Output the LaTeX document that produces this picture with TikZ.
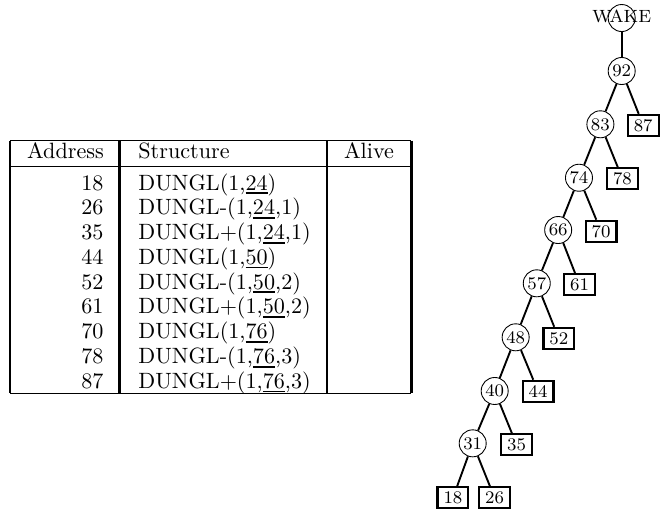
\documentclass[tikz,border=0pt]{standalone}
\usepackage{tikz}
\usetikzlibrary{positioning}

% heavy underline for the pointer field
\newlength\ptrwd
\newcommand{\ptr}[1]{\settowidth{\ptrwd}{#1}\rlap{\rule[-1.9pt]{\ptrwd}{0.8pt}}#1}

\begin{document}
\begin{tikzpicture}[
    cell/.style={inner sep=0pt},
    hrule/.style={line width=0.45pt},
    vrule/.style={line width=1pt},
    inner/.style={circle,draw,line width=0.4pt,minimum size=12.2pt,inner sep=0pt,font=\footnotesize},
    leaf/.style={rectangle,draw,line width=1pt,minimum width=13.9pt,minimum height=9.4pt,inner sep=0pt,font=\footnotesize},
    branch/.style={line width=0.85pt}]
  \useasboundingbox (0,0) rectangle (10.492,-8.159);

  % table frame
  \draw[hrule] (0.163,-2.233) -- (6.53,-2.233);
  \draw[hrule] (0.163,-2.646) -- (6.53,-2.646);
  \draw[hrule,line width=0.7pt] (0.163,-6.243) -- (6.53,-6.243);
  \draw[vrule] (0.163,-2.233) -- (0.163,-6.243);
  \draw[vrule] (1.897,-2.233) -- (1.897,-6.243);
  \draw[vrule] (5.19,-2.233) -- (5.19,-6.243);
  \draw[vrule] (6.53,-2.233) -- (6.53,-6.243);

  % header
  \node[cell,anchor=base] (hAddr) at (1.04,-2.508) {Address};
  \node[cell,anchor=base west] (hStruct) at (2.19,-2.508) {Structure};
  \node[cell,anchor=base] (hAlive) at (5.857,-2.508) {Alive};

  % rows
  \node[cell,anchor=base east] (a18) at (1.65,-3.016) {18};
  \node[cell,anchor=base west] (s18) at (2.19,-3.016) {DUNGL(1,\ptr{24})};
  \node[cell,anchor=base east] (a26) at (1.65,-3.409) {26};
  \node[cell,anchor=base west] (s26) at (2.19,-3.409) {DUNGL-(1,\ptr{24},1)};
  \node[cell,anchor=base east] (a35) at (1.65,-3.802) {35};
  \node[cell,anchor=base west] (s35) at (2.19,-3.802) {DUNGL+(1,\ptr{24},1)};
  \node[cell,anchor=base east] (a44) at (1.65,-4.195) {44};
  \node[cell,anchor=base west] (s44) at (2.19,-4.195) {DUNGL(1,\ptr{50})};
  \node[cell,anchor=base east] (a52) at (1.65,-4.588) {52};
  \node[cell,anchor=base west] (s52) at (2.19,-4.588) {DUNGL-(1,\ptr{50},2)};
  \node[cell,anchor=base east] (a61) at (1.65,-4.981) {61};
  \node[cell,anchor=base west] (s61) at (2.19,-4.981) {DUNGL+(1,\ptr{50},2)};
  \node[cell,anchor=base east] (a70) at (1.65,-5.374) {70};
  \node[cell,anchor=base west] (s70) at (2.19,-5.374) {DUNGL(1,\ptr{76})};
  \node[cell,anchor=base east] (a78) at (1.65,-5.767) {78};
  \node[cell,anchor=base west] (s78) at (2.19,-5.767) {DUNGL-(1,\ptr{76},3)};
  \node[cell,anchor=base east] (a87) at (1.65,-6.160) {87};
  \node[cell,anchor=base west] (s87) at (2.19,-6.160) {DUNGL+(1,\ptr{76},3)};

  % tree
  \node[inner] (wake) at (9.868,-0.286) {};
  \node[cell,font=\footnotesize] (wakeText) at (9.868,-0.265) {WAKE};
  \node[inner] (n92) at (9.868,-1.127) {92};
  \node[inner] (n83) at (9.530,-1.973) {83};
  \node[leaf]  (l87) at (10.210,-1.99) {87};
  \node[inner] (n74) at (9.190,-2.821) {74};
  \node[leaf]  (l78) at (9.880,-2.837) {78};
  \node[inner] (n66) at (8.860,-3.651) {66};
  \node[leaf]  (l70) at (9.540,-3.67) {70};
  \node[inner] (n57) at (8.520,-4.497) {57};
  \node[leaf]  (l61) at (9.200,-4.52) {61};
  \node[inner] (n48) at (8.185,-5.354) {48};
  \node[leaf]  (l52) at (8.870,-5.37) {52};
  \node[inner] (n40) at (7.852,-6.206) {40};
  \node[leaf]  (l44) at (8.540,-6.21) {44};
  \node[inner] (n31) at (7.503,-7.037) {31};
  \node[leaf]  (l35) at (8.200,-7.06) {35};
  \node[leaf]  (l18) at (7.190,-7.90) {18};
  \node[leaf]  (l26) at (7.850,-7.90) {26};

  \draw[branch] (wake) -- (n92);
  \draw[branch] (n92) -- (n83);
  \draw[branch] (n92) -- (l87);
  \draw[branch] (n83) -- (n74);
  \draw[branch] (n83) -- (l78);
  \draw[branch] (n74) -- (n66);
  \draw[branch] (n74) -- (l70);
  \draw[branch] (n66) -- (n57);
  \draw[branch] (n66) -- (l61);
  \draw[branch] (n57) -- (n48);
  \draw[branch] (n57) -- (l52);
  \draw[branch] (n48) -- (n40);
  \draw[branch] (n48) -- (l44);
  \draw[branch] (n40) -- (n31);
  \draw[branch] (n40) -- (l35);
  \draw[branch] (n31) -- (l18);
  \draw[branch] (n31) -- (l26);
\end{tikzpicture}
\end{document}
